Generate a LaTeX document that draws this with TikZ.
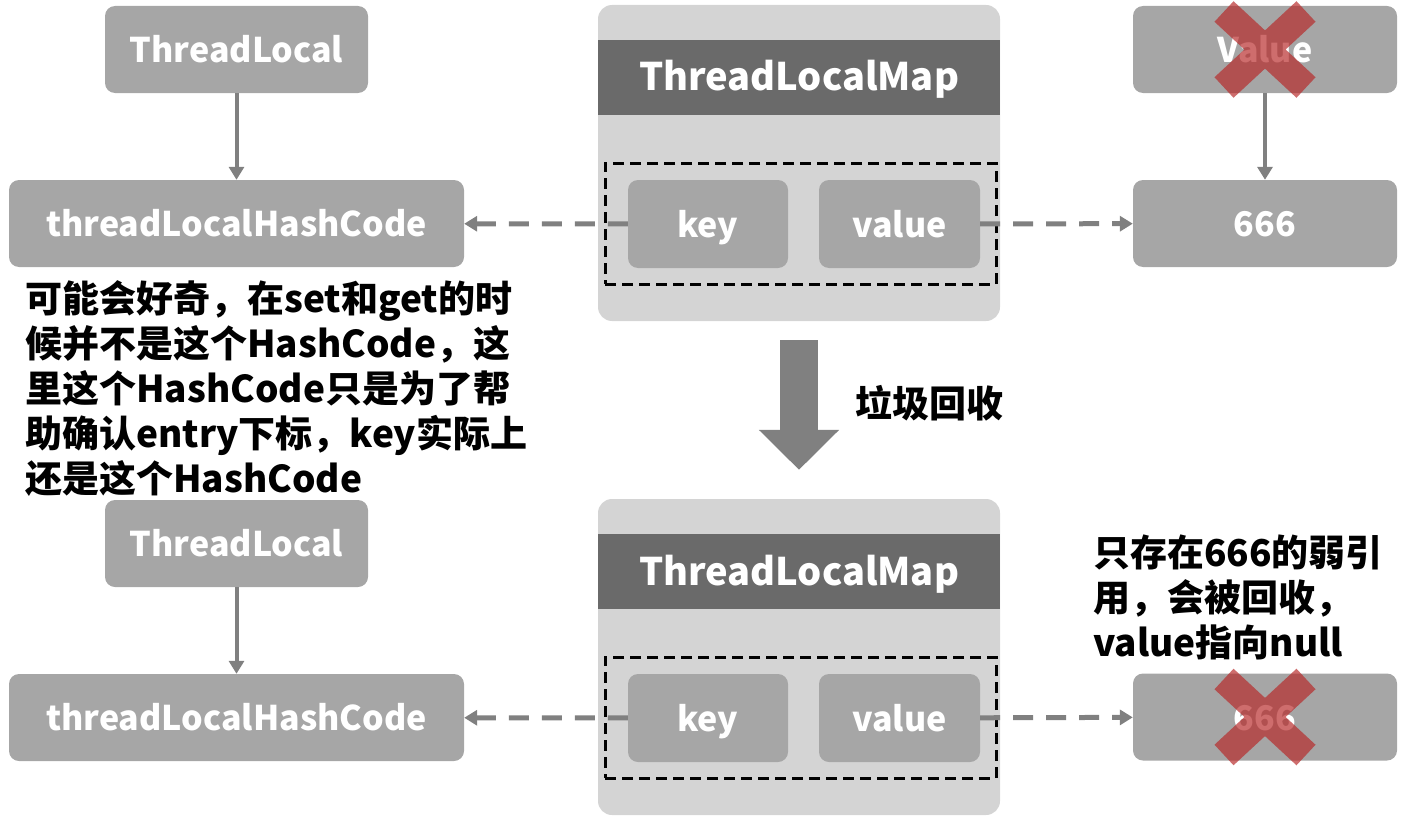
\documentclass[tikz,border=0pt]{standalone}
\usepackage{fontspec}
\setmainfont{Noto Sans CJK SC}
\usepackage{tikz}
\usetikzlibrary{positioning}
\usetikzlibrary{arrows.meta}
\definecolor{boxgray}{RGB}{166,166,166}
\definecolor{mapgray}{RGB}{212,212,212}
\definecolor{headgray}{RGB}{106,106,106}
\definecolor{linegray}{RGB}{128,128,128}
\definecolor{crossred}{RGB}{183,40,40}
\tikzstyle{gray box}=[fill=boxgray, rounded corners=10pt, text=white, inner sep=0pt,
  font=\fontsize{34}{40}\selectfont\bfseries, minimum height=87pt, text height=34pt, text depth=8pt]
\tikzstyle{map box}=[fill=mapgray, rounded corners=14pt, minimum width=402pt, minimum height=316pt, inner sep=0pt]
\tikzstyle{map head}=[fill=headgray, text=white, minimum width=402pt, minimum height=75pt, inner sep=0pt,
  font=\fontsize{38}{40}\selectfont\bfseries, text height=36pt, text depth=9pt]
\tikzstyle{entry frame}=[draw=black, line width=3pt, dash pattern=on 11pt off 6pt, minimum width=391pt, minimum height=121pt, inner sep=0pt]
\tikzstyle{link edge}=[-{Triangle[length=13pt,width=15pt]}, draw=linegray, line width=4pt]
\tikzstyle{ref edge}=[link edge, line width=5pt, dash pattern=on 20pt off 13pt]
\tikzstyle{gc edge}=[-{Triangle[length=40pt,width=78pt]}, draw=linegray, line width=38pt]
\tikzstyle{cross}=[draw=crossred, opacity=0.68, line width=28pt]
\tikzstyle{note}=[font=\fontsize{37}{45}\selectfont\bfseries, align=left, inner sep=0pt]
\newcommand{\grayboxnode}[4][]{
  \node [gray box, minimum width=#3, #1] (#2) {#4}
}

\begin{document}
\begin{tikzpicture}[x=1pt,y=-1pt]
  \useasboundingbox (0,0) rectangle (1406,816);
  % upper half
  \grayboxnode[at={(236.5,49.5)}]{tl1}{263pt}{ThreadLocal};
  \grayboxnode[at={(236.5,223.5)}]{hash1}{455pt}{threadLocalHashCode};
  \node [map box] (map1) at (799,163) {};
  \node [map head] (head1) at (799,77.5) {ThreadLocalMap};
  \node [entry frame] (frame1) at (800.5,223.5) {};
  \grayboxnode[at={(708,224)}, minimum height=88pt]{key1}{160pt}{key};
  \grayboxnode[at={(899.5,224)}, minimum height=88pt]{val1}{161pt}{value};
  \grayboxnode[at={(1265,49.5)}]{value1}{264pt}{Value};
  \grayboxnode[at={(1265,223.5)}]{num1}{264pt}{666};
  \node [note, anchor=north west] (note1) at (25,280)
    {可能会好奇，在set和get的时\\候并不是这个HashCode，这\\里这个HashCode只是为了帮\\助确认entry下标，key实际上\\还是这个HashCode};

  \draw[link edge] (tl1) -- (hash1);
  \draw[ref edge] (key1) -- (hash1);
  \draw[ref edge] (val1) -- (num1);
  \draw[link edge] (value1) -- (num1);
  \draw[cross] ([shift={(-41,-38)}]value1.center) -- ([shift={(41,38)}]value1.center)
               ([shift={(41,-38)}]value1.center) -- ([shift={(-41,38)}]value1.center);

  % lower half
  \grayboxnode[at={(236.5,543.5)}]{tl2}{263pt}{ThreadLocal};
  \grayboxnode[at={(236.5,717.5)}]{hash2}{455pt}{threadLocalHashCode};
  \node [map box] (map2) at (799,657) {};
  \node [map head] (head2) at (799,571.5) {ThreadLocalMap};
  \node [entry frame] (frame2) at (800.5,717.5) {};
  \grayboxnode[at={(708,718)}, minimum height=88pt]{key2}{160pt}{key};
  \grayboxnode[at={(899.5,718)}, minimum height=88pt]{val2}{161pt}{value};
  \grayboxnode[at={(1265,717)}]{num2}{264pt}{666};
  \node [note, anchor=north west] (note2) at (1093,535)
    {只存在666的弱引\\用，会被回收，\\value指向null};

  \draw[link edge] (tl2) -- (hash2);
  \draw[ref edge] (key2) -- (hash2);
  \draw[ref edge] (val2) -- (num2);
  \draw[cross] ([shift={(-41,-38)}]num2.center) -- ([shift={(41,38)}]num2.center)
               ([shift={(41,-38)}]num2.center) -- ([shift={(-41,38)}]num2.center);

  % garbage collection
  \draw[gc edge, shorten <=19pt, shorten >=29pt] (map1) -- (map2);
  \node [note, anchor=west] (gc) at (855,403) {垃圾回收};
\end{tikzpicture}
\end{document}
